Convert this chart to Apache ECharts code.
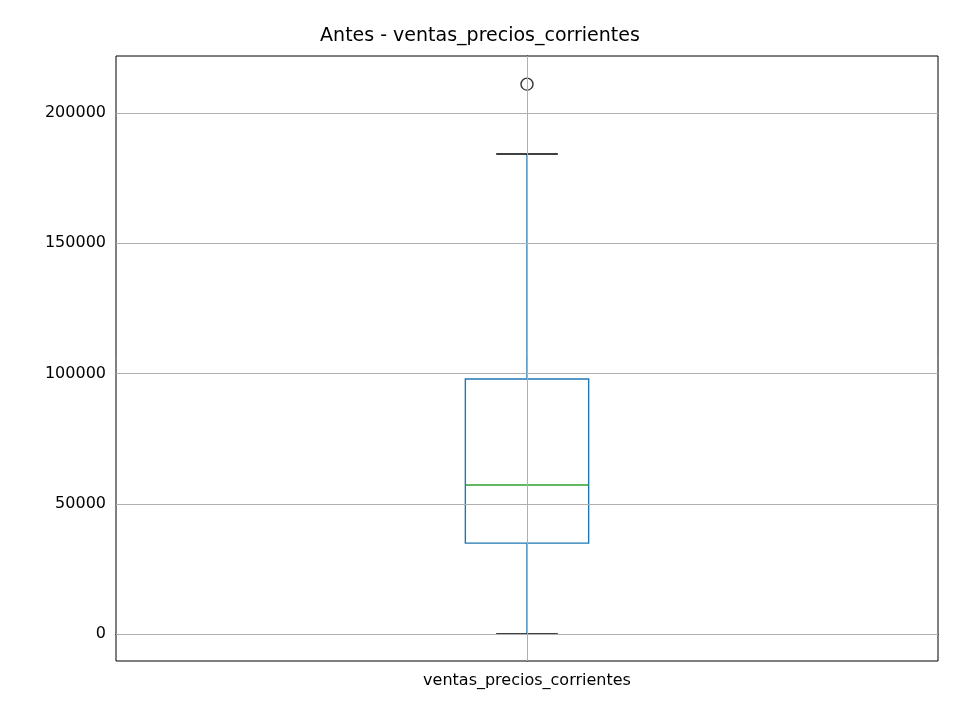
<!DOCTYPE html>
<html>
<head>
<meta charset="utf-8">
<script src="https://cdn.jsdelivr.net/npm/echarts@6/dist/echarts.min.js"></script>
</head>
<body style="margin:0;background:#fff">
<div id="main" style="width:960px;height:720px;"></div>
<script>
var category = 'ventas_precios_corrientes';
// min, q1, median, q3, max
var boxStats = [0, 34900, 57200, 97900, 184300];
var outliers = [211100];
var yTicks = [0, 50000, 100000, 150000, 200000];

var chart = echarts.init(document.getElementById('main'));
var font = 'DejaVu Sans';

chart.setOption({
  animation: false,
  title: { text: 'Antes - ventas_precios_corrientes', left: 'center', top: 22,
    textStyle: { fontFamily: font, fontSize: 19, fontWeight: 'normal', color: '#000' } },
  grid: { left: 116, right: 22, top: 56, bottom: 59, show: true, borderColor: '#000', borderWidth: 1 },
  xAxis: {
    type: 'value', min: -1, max: 1,
    axisLine: { show: true, lineStyle: { color: '#000' } },
    axisTick: { show: true, length: 6, customValues: [0], lineStyle: { color: '#000' } },
    axisLabel: { fontFamily: font, fontSize: 16, color: '#000', margin: 12, customValues: [0],
      formatter: function () { return category; } },
    splitLine: { show: false }
  },
  yAxis: {
    type: 'value', min: -10365, max: 221900,
    axisLine: { show: true, lineStyle: { color: '#000' } },
    axisTick: { show: true, length: 6, customValues: yTicks, lineStyle: { color: '#000' } },
    axisLabel: { fontFamily: font, fontSize: 16, color: '#000', customValues: yTicks, margin: 10,
      formatter: function (v) { return String(v); } },
    splitLine: { show: false }
  },
  series: [
    {
      type: 'line', data: [], silent: true,
      markLine: {
        symbol: 'none', silent: true, label: { show: false },
        lineStyle: { color: '#b0b0b0', type: 'solid', width: 1 },
        data: yTicks.map(function (v) { return { yAxis: v }; }).concat([{ xAxis: 0 }])
      }
    },
    {
      type: 'custom',
      data: [[0].concat(boxStats)],
      renderItem: function (params, api) {
        var x = api.value(0);
        var hw = 0.15, cw = 0.075;
        function p(dx, v) { return api.coord([x + dx, v]); }
        var mn = api.value(1), q1 = api.value(2), md = api.value(3), q3 = api.value(4), mx = api.value(5);
        var a = p(-hw, q3), b = p(hw, q1);
        var blue = '#1f77b4';
        function line(p1, p2, c) {
          return { type: 'line', shape: { x1: p1[0], y1: p1[1], x2: p2[0], y2: p2[1] },
            style: { stroke: c, lineWidth: 1.4 } };
        }
        return { type: 'group', children: [
          line(p(0, q3), p(0, mx), blue),
          line(p(0, q1), p(0, mn), blue),
          line(p(-cw, mx), p(cw, mx), '#000'),
          line(p(-cw, mn), p(cw, mn), '#000'),
          { type: 'rect', shape: { x: a[0], y: a[1], width: b[0] - a[0], height: b[1] - a[1] },
            style: { fill: 'none', stroke: blue, lineWidth: 1.4 } },
          line(p(-hw, md), p(hw, md), '#2ca02c')
        ] };
      }
    },
    {
      type: 'scatter',
      data: outliers.map(function (v) { return [0, v]; }),
      symbol: 'circle', symbolSize: 12,
      itemStyle: { color: 'none', borderColor: '#000', borderWidth: 1.4 }
    }
  ]
});
</script>
</body>
</html>
